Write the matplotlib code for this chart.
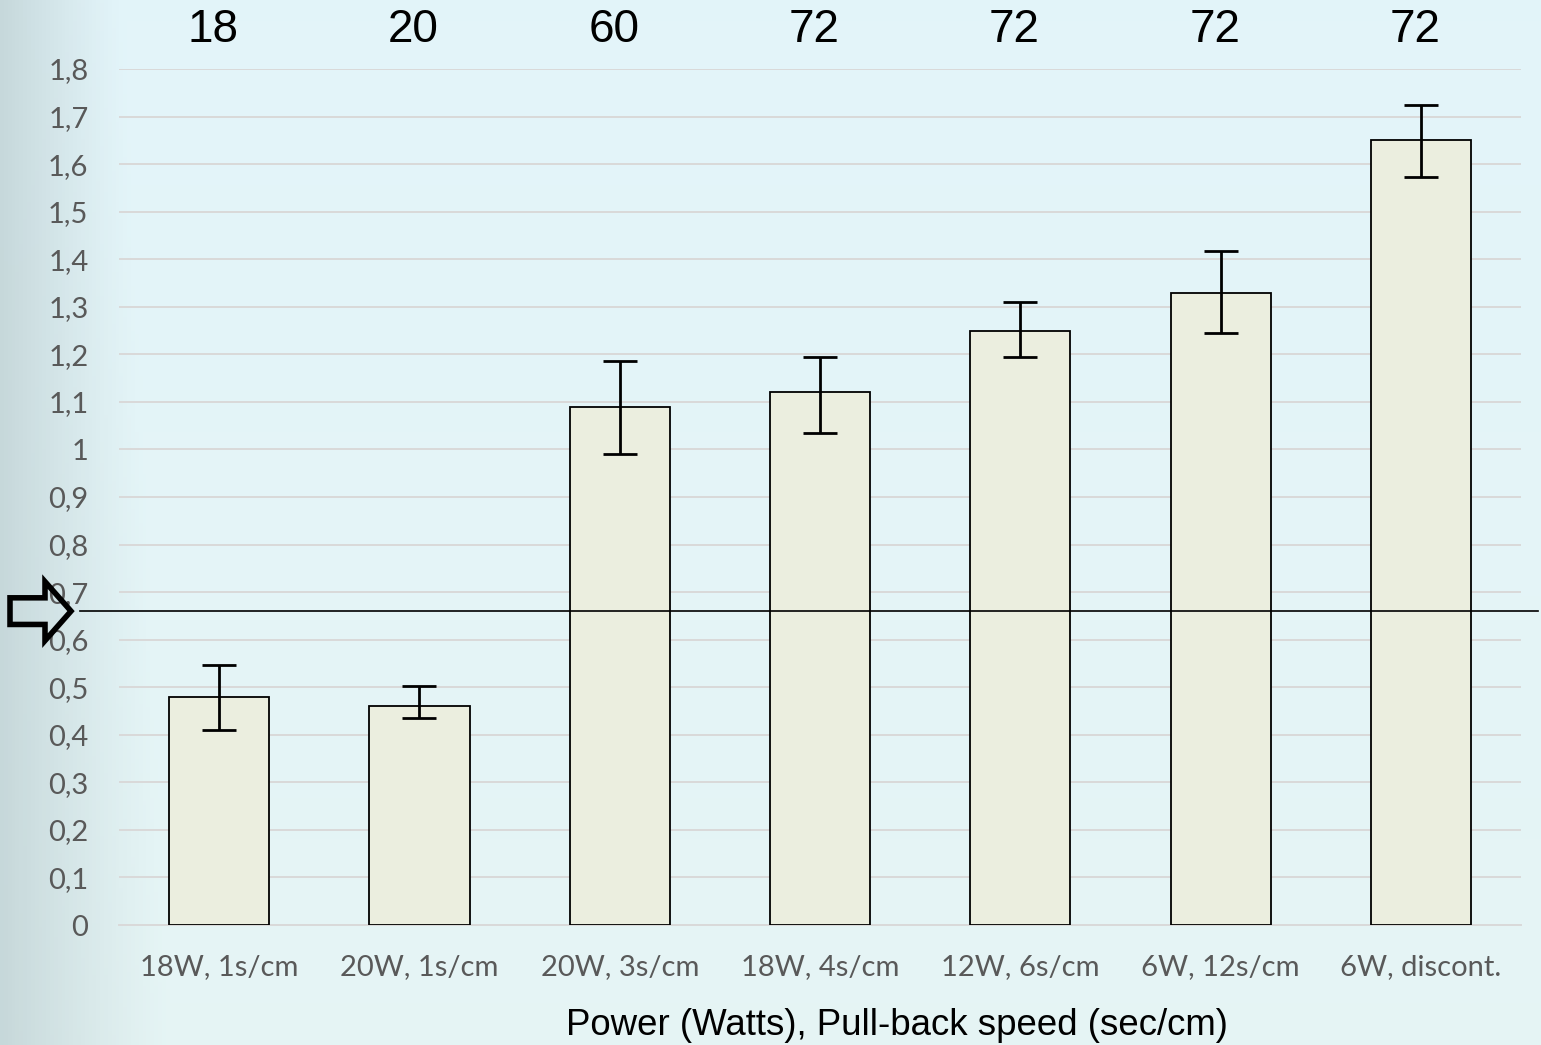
import matplotlib.pyplot as plt
import numpy as np
from matplotlib.patches import Polygon
from matplotlib.transforms import blended_transform_factory

categories = ["18W, 1s/cm", "20W, 1s/cm", "20W, 3s/cm", "18W, 4s/cm",
              "12W, 6s/cm", "6W, 12s/cm", "6W, discont."]
values = [0.48, 0.46, 1.09, 1.12, 1.25, 1.33, 1.65]
err_low = [0.07, 0.025, 0.10, 0.085, 0.055, 0.085, 0.077]
err_high = [0.067, 0.042, 0.095, 0.074, 0.06, 0.087, 0.074]
top_numbers = ["18", "20", "60", "72", "72", "72", "72"]
threshold = 0.66
yticks = [i / 10 for i in range(19)]
ytick_labels = [("%.1f" % t).replace(".", ",") if t not in (0, 1) else str(int(t)) for t in yticks]

fig = plt.figure(figsize=(15.41, 10.45), dpi=100)

# background: light blue with a greyish texture-like band at the left
bg = fig.add_axes([0, 0, 1, 1], zorder=-10)
xs = np.linspace(0, 1, 400)
ys = np.linspace(0, 1, 300)
X, Y = np.meshgrid(xs, ys)
fade = 0.75 * np.clip(1 - X / (0.11 - 0.03 * Y), 0, 1) ** 1.2
left = np.array([0.74, 0.81, 0.82])
base_top = np.array([0.89, 0.96, 0.98])
base_bot = np.array([0.90, 0.96, 0.96])
base = base_bot[None, None, :] * (1 - Y[..., None]) + base_top[None, None, :] * Y[..., None]
img = base * (1 - fade[..., None]) + left[None, None, :] * fade[..., None]
bg.imshow(img, extent=[0, 1, 0, 1], aspect="auto", origin="lower")
bg.axis("off")

ax = fig.add_axes([119 / 1541, 1 - 925 / 1045, (1521 - 119) / 1541, (925 - 69) / 1045])
ax.patch.set_alpha(0)

x = np.arange(len(categories))
ax.bar(x, values, width=0.5, color="#EBEEDF", edgecolor="black", linewidth=1.3, zorder=3)
ax.errorbar(x, values, yerr=[err_low, err_high], fmt="none", ecolor="black",
            elinewidth=2, capsize=12, capthick=2, zorder=4)

ax.set_xlim(-0.5, len(categories) - 0.5)
ax.set_ylim(0, 1.8)
ax.set_yticks(yticks)
ax.set_yticklabels(ytick_labels)
ax.set_xticks(x)
ax.set_xticklabels(categories)
ax.grid(axis="y", color="#D9D9D9", linewidth=1.4, zorder=0)
for s in ["top", "right", "left"]:
    ax.spines[s].set_visible(False)
ax.spines["bottom"].set_color("#D9D9D9")
ax.spines["bottom"].set_linewidth(1.4)
ax.tick_params(axis="both", length=0, labelcolor="#595959", labelsize=21)
ax.tick_params(axis="y", pad=22)
ax.tick_params(axis="x", pad=21)
for lbl in ax.get_xticklabels() + ax.get_yticklabels():
    lbl.set_family("Lato")

ax.set_xlabel("Power (Watts), Pull-back speed (sec/cm)", fontsize=26.4,
              family="Liberation Sans", color="black")
ax.xaxis.set_label_coords(0.555, -0.097)

# numbers above the bars
top_tr = blended_transform_factory(ax.transData, fig.transFigure)
for xi, t in zip(x, top_numbers):
    ax.text(xi - 0.03, 1 - 30 / 1045, t, transform=top_tr, ha="center", va="center",
            fontsize=33, family="Liberation Sans", clip_on=False)

# threshold line across the figure
line_tr = blended_transform_factory(fig.transFigure, ax.transData)
ax.plot([80 / 1541, 1538 / 1541], [threshold, threshold], transform=line_tr,
        color="black", linewidth=1.2, clip_on=False, zorder=5)

# hollow arrow pointing at the threshold
px = lambda v: v / 1541
hh, sh = 0.062, 0.028
arrow = Polygon([(px(10), threshold + sh), (px(45), threshold + sh), (px(45), threshold + hh),
                 (px(71), threshold), (px(45), threshold - hh), (px(45), threshold - sh),
                 (px(10), threshold - sh)],
                closed=True, facecolor="none", edgecolor="black", linewidth=4,
                joinstyle="miter", transform=line_tr, clip_on=False, zorder=6)
ax.add_patch(arrow)

fig.savefig("out.png", dpi=100)
